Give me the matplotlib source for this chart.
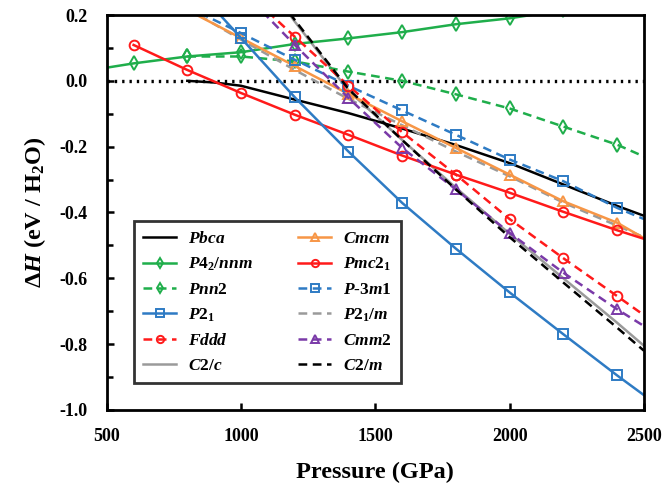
import matplotlib
matplotlib.use("Agg")
import matplotlib.pyplot as plt
from matplotlib.ticker import MultipleLocator

plt.rcParams["font.family"] = "Liberation Serif"
plt.rcParams["font.weight"] = "bold"
plt.rcParams["mathtext.fontset"] = "custom"
plt.rcParams["mathtext.rm"] = "Liberation Serif:bold"
plt.rcParams["mathtext.it"] = "Liberation Serif:italic:bold"
plt.rcParams["mathtext.bf"] = "Liberation Serif:bold"

# pressures (GPa) and enthalpy differences (eV / H2O)
p_pbca = [800, 900, 1000, 1200, 1400, 1600, 1800, 2000, 2200, 2400, 2500]
h_pbca = [0.0, -0.005, -0.015, -0.057, -0.098, -0.145, -0.195, -0.25, -0.315, -0.38, -0.41]

p_p42 = [500, 600, 800, 1000, 1200, 1400, 1600, 1800, 2000, 2200]
h_p42 = [0.04, 0.053, 0.074, 0.087, 0.112, 0.129, 0.148, 0.172, 0.19, 0.215]

p_pnn2 = [800, 1000, 1200, 1400, 1600, 1800, 2000, 2200, 2400, 2500]
h_pnn2 = [0.074, 0.074, 0.059, 0.028, 0.0, -0.041, -0.084, -0.139, -0.194, -0.23]

p_p21 = [900, 1000, 1200, 1400, 1600, 1800, 2000, 2200, 2400, 2500]
h_p21 = [0.22, 0.13, -0.05, -0.215, -0.371, -0.51, -0.643, -0.77, -0.895, -0.955]

p_fddd = [1100, 1200, 1400, 1600, 1800, 2000, 2200, 2400, 2500]
h_fddd = [0.21, 0.134, -0.015, -0.156, -0.285, -0.42, -0.539, -0.654, -0.712]

p_c2c = [1150, 1200, 1400, 1600, 1800, 2000, 2200, 2400, 2500]
h_c2c = [0.235, 0.18, -0.03, -0.18, -0.325, -0.465, -0.6, -0.735, -0.805]

p_cmcm = [800, 1000, 1200, 1400, 1600, 1800, 2000, 2200, 2400, 2500]
h_cmcm = [0.215, 0.13, 0.045, -0.04, -0.123, -0.204, -0.285, -0.366, -0.431, -0.478]

p_pmc21 = [600, 800, 1000, 1200, 1400, 1600, 1800, 2000, 2200, 2400, 2500]
h_pmc21 = [0.109, 0.033, -0.037, -0.103, -0.164, -0.227, -0.285, -0.34, -0.398, -0.454, -0.48]

p_p3m1 = [800, 1000, 1200, 1400, 1600, 1800, 2000, 2200, 2400, 2500]
h_p3m1 = [0.225, 0.145, 0.064, -0.015, -0.09, -0.164, -0.239, -0.305, -0.386, -0.42]

p_p21m = [800, 1000, 1200, 1400, 1600, 1800, 2000, 2200, 2400, 2500]
h_p21m = [0.22, 0.125, 0.033, -0.055, -0.135, -0.215, -0.29, -0.37, -0.44, -0.475]

p_cmm2 = [1080, 1200, 1400, 1600, 1800, 2000, 2200, 2400, 2500]
h_cmm2 = [0.21, 0.109, -0.052, -0.204, -0.33, -0.462, -0.583, -0.694, -0.745]

p_c2m = [1150, 1200, 1400, 1600, 1800, 2000, 2200, 2400, 2500]
h_c2m = [0.24, 0.185, -0.025, -0.18, -0.33, -0.475, -0.613, -0.75, -0.82]

green = "#1fae4b"
red = "#ff1a1a"
blue = "#2e7bc4"
orange = "#f79646"
purple = "#7a3aa8"
gray = "#9a9a9a"

dash = (3.5, 2.2)

fig = plt.figure(figsize=(6.67, 4.92), dpi=100)
ax = fig.add_axes([0.160, 0.1667, 0.8055, 0.8028])

ax.axhline(0, color="black", lw=2.4, ls=(0, (0.7, 1.5)), zorder=1)


def series(x, y, label, color, ls="-", marker=None, every=None):
    kw = dict(color=color, lw=1.8, label=label, clip_on=True)
    if marker:
        kw.update(marker=marker, markersize=7, markerfacecolor="none",
                  markeredgewidth=1.4, markevery=every)
    line, = ax.plot(x, y, **kw)
    if ls == "--":
        line.set_dashes(dash)
    return line


mid = lambda x: [i for i in range(len(x)) if x[i] % 200 == 0 and 600 <= x[i] <= 2400]

l_c2c = series(p_c2c, h_c2c, r"$C2/c$", gray)
l_pbca = series(p_pbca, h_pbca, r"$Pbca$", "black")
l_p42 = series(p_p42, h_p42, r"$P4_2/nnm$", green, "-", "d", mid(p_p42))
l_pnn2 = series(p_pnn2, h_pnn2, r"$Pnn2$", green, "--", "d", mid(p_pnn2))
l_p21m = series(p_p21m, h_p21m, r"$P2_1/m$", gray, "--")
l_cmcm = series(p_cmcm, h_cmcm, r"$Cmcm$", orange, "-", "^", mid(p_cmcm))
l_p3m1 = series(p_p3m1, h_p3m1, r"$P$-$3m1$", blue, "--", "s", mid(p_p3m1))
l_pmc21 = series(p_pmc21, h_pmc21, r"$Pmc2_1$", red, "-", "o", mid(p_pmc21))
l_p21 = series(p_p21, h_p21, r"$P2_1$", blue, "-", "s", mid(p_p21))
l_fddd = series(p_fddd, h_fddd, r"$Fddd$", red, "--", "o", mid(p_fddd))
l_cmm2 = series(p_cmm2, h_cmm2, r"$Cmm2$", purple, "--", "^", mid(p_cmm2))
l_c2m = series(p_c2m, h_c2m, r"$C2/m$", "black", "--")

ax.set_xlim(500, 2500)
ax.set_ylim(-1.0, 0.2)
ax.xaxis.set_major_locator(MultipleLocator(500))
ax.yaxis.set_minor_locator(MultipleLocator(0.1))
ax.set_yticks([0.2, 0.0, -0.2, -0.4, -0.6, -0.8, -1.0])
ax.set_yticklabels(["0.2", "0.0", "-0.2", "-0.4", "-0.6", "-0.8", "-1.0"])
ax.tick_params(axis="both", which="both", direction="in", labelsize=13,
               width=1.8, top=False, right=False)
ax.tick_params(axis="x", which="major", length=5, pad=13)
ax.tick_params(axis="y", which="minor", length=4)
ax.tick_params(axis="y", which="major", length=5, pad=14)
for s in ax.spines.values():
    s.set_linewidth(2)

ax.set_xlabel("Pressure (GPa)", fontsize=17.5, fontweight="bold", labelpad=12)
ax.set_ylabel(r"$\Delta\mathit{H}$ (eV / H$_2$O)", fontsize=17.5, fontweight="bold", labelpad=8)

handles = [l_pbca, l_p42, l_pnn2, l_p21, l_fddd, l_c2c,
           l_cmcm, l_pmc21, l_p3m1, l_p21m, l_cmm2, l_c2m]
leg = ax.legend(handles=handles, ncol=2, loc="lower left",
                bbox_to_anchor=(0.05, 0.068), borderaxespad=0, fontsize=12.5,
                frameon=True, fancybox=False, edgecolor="black",
                handlelength=1.9, handletextpad=0.7, columnspacing=2.6,
                labelspacing=0.5, borderpad=0.55, markerscale=0.75)
leg.get_frame().set_linewidth(2)

fig.savefig("out.png", dpi=100)
